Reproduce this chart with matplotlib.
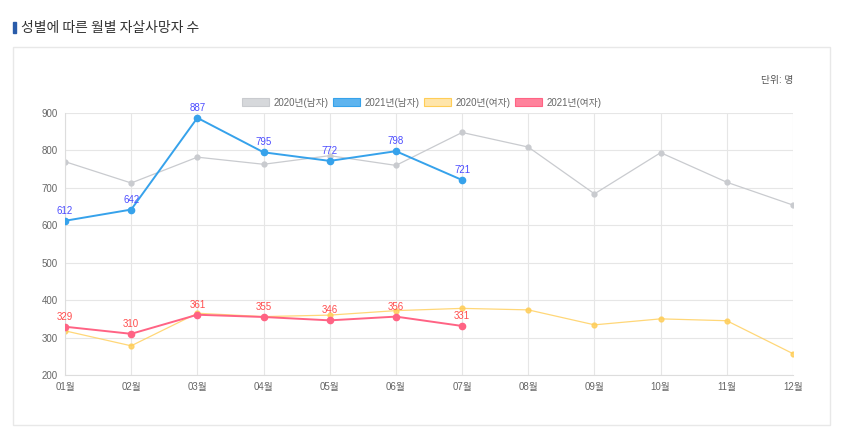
import matplotlib
matplotlib.use("Agg")
import matplotlib.pyplot as plt
from matplotlib.patches import Patch, Rectangle

plt.rcParams['font.family'] = ['Liberation Sans', 'Noto Sans CJK KR', 'DejaVu Sans']

months = ["01월", "02월", "03월", "04월", "05월", "06월", "07월", "08월", "09월", "10월", "11월", "12월"]
male_2020 = [770, 713, 782, 763, 786, 760, 848, 809, 684, 794, 715, 654]
male_2021 = [612, 642, 887, 795, 772, 798, 721]
female_2020 = [318, 278, 365, 356, 360, 372, 378, 374, 334, 350, 345, 257]
female_2021 = [329, 310, 361, 355, 346, 356, 331]
series_names = ["2020년(남자)", "2021년(남자)", "2020년(여자)", "2021년(여자)"]

GRAY = (201/255, 203/255, 207/255)
BLUE = (54/255, 162/255, 235/255)
YELLOW = (255/255, 205/255, 86/255)
RED = (255/255, 99/255, 132/255)

fig = plt.figure(figsize=(8.5, 4.38), dpi=100)

# title + card frame
fig.patches.append(Rectangle((13/850, 1 - 33/438), 3/850, 11/438, transform=fig.transFigure,
                             color="#2a5caa", zorder=2))
fig.text(21/850, 1 - 28/438, "성별에 따른 월별 자살사망자 수", fontsize=10, color="#333333",
         va="center", ha="left", family=['Noto Sans CJK KR'])
fig.patches.append(Rectangle((13/850, 1 - 425/438), 817/850, 378/438, transform=fig.transFigure,
                             fill=False, ec="#e8e8e8", lw=1))
fig.text(793/850, 1 - 80/438, "단위: 명", fontsize=7, color="#555555", va="center", ha="right")

ax = fig.add_axes([65/850, 1 - 375/438, 728/850, 262/438])
x_all = list(range(len(months)))
x_21 = list(range(len(male_2021)))

ax.plot(x_all, male_2020, color=GRAY, lw=0.9, marker="o", ms=3.5, zorder=2)
ax.plot(x_all, female_2020, color=YELLOW, lw=0.9, marker="o", ms=3.5, alpha=0.8, zorder=2)
ax.plot(x_21, male_2021, color=BLUE, lw=1.4, marker="o", ms=4.5, zorder=3)
ax.plot(x_21, female_2021, color=RED, lw=1.4, marker="o", ms=4.5, zorder=3)

for xi, v in zip(x_21, male_2021):
    ax.annotate(str(v), (xi, v), xytext=(0, 3.5), textcoords="offset points",
                ha="center", va="bottom", fontsize=7, color="#4d4dff", zorder=4)
for xi, v in zip(x_21, female_2021):
    ax.annotate(str(v), (xi, v), xytext=(0, 3.5), textcoords="offset points",
                ha="center", va="bottom", fontsize=7, color="#ff4d4d", zorder=4)

ax.set_xlim(0, 11)
ax.set_ylim(200, 900)
ax.set_xticks(x_all)
ax.set_xticklabels(months)
ax.set_yticks(range(200, 901, 100))
ax.tick_params(labelsize=7, colors="#666666", length=0, pad=5)
ax.grid(True, color="#e6e6e6", lw=0.8)
ax.set_axisbelow(True)
for s in ["top", "right"]:
    ax.spines[s].set_visible(False)
for s in ["left", "bottom"]:
    ax.spines[s].set_color("#dddddd")

fills = [0.75, 0.8, 0.5, 0.8]
handles = [Patch(facecolor=(*c, a), edgecolor=c, lw=0.8)
           for c, a in zip([GRAY, BLUE, YELLOW, RED], fills)]
ax.legend(handles, series_names, loc="lower center", bbox_to_anchor=(0.49, 1.005), ncol=4,
          frameon=False, fontsize=7, labelcolor="#666666", handlelength=2.8,
          handleheight=0.9, columnspacing=0.5, handletextpad=0.4, borderaxespad=0)

fig.savefig("out.png", dpi=100)
